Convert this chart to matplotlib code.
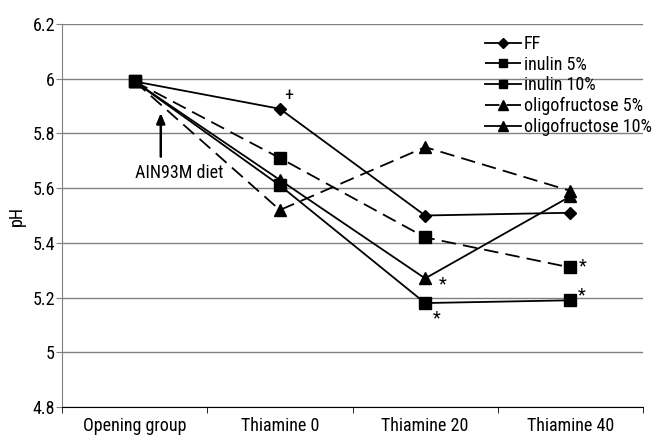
import matplotlib
matplotlib.use("Agg")
import matplotlib.pyplot as plt
from matplotlib import font_manager as fm

names = {f.name for f in fm.fontManager.ttflist}
chosen = None
for cand in ['Liberation Sans Narrow', 'Roboto Condensed', 'Archivo Narrow', 'PT Sans Narrow',
             'Fira Sans Condensed', 'IBM Plex Sans Condensed', 'Open Sans Condensed']:
    if cand in names:
        chosen = cand
        break
plt.rcParams['font.family'] = ([chosen] if chosen else []) + ['Liberation Sans', 'DejaVu Sans']
FS = 13 if chosen else 11

categories = ["Opening group", "Thiamine 0", "Thiamine 20", "Thiamine 40"]
ff = [5.99, 5.89, 5.50, 5.51]
inulin5 = [5.99, 5.71, 5.42, 5.31]
inulin10 = [5.99, 5.61, 5.18, 5.19]
oligo5 = [5.99, 5.52, 5.75, 5.59]
oligo10 = [5.99, 5.63, 5.27, 5.57]
yticks = [4.8, 5.0, 5.2, 5.4, 5.6, 5.8, 6.0, 6.2]
yticklabels = ["4.8", "5", "5.2", "5.4", "5.6", "5.8", "6", "6.2"]

fig = plt.figure(figsize=(6.53, 4.37), dpi=100)
ax = fig.add_axes([62/653, 1-407/437, (643-62)/653, (407-24)/437])

x = list(range(len(categories)))
dash = (0, (8, 4))
lw = 1.3
ax.plot(x, ff, color='black', lw=lw, marker='D', ms=6, label='FF', zorder=3)
ax.plot(x, inulin5, color='black', lw=lw, ls=dash, marker='s', ms=8, label='inulin 5%', zorder=3)
ax.plot(x, inulin10, color='black', lw=lw, marker='s', ms=8, label='inulin 10%', zorder=3)
ax.plot(x, oligo5, color='black', lw=lw, ls=dash, marker='^', ms=9, label='oligofructose 5%', zorder=3)
ax.plot(x, oligo10, color='black', lw=lw, marker='^', ms=9, label='oligofructose 10%', zorder=3)

ax.set_ylim(4.8, 6.2)
ax.set_yticks(yticks)
ax.set_yticklabels(yticklabels)
ax.set_xlim(-0.5, 3.5)
ax.set_xticks(x)
ax.set_xticklabels(categories)
ax.set_xticks([-0.5, 0.5, 1.5, 2.5, 3.5], minor=True)
ax.tick_params(axis='x', which='major', length=0, pad=7, labelsize=FS)
ax.tick_params(axis='x', which='minor', length=4, color='black')
ax.tick_params(axis='y', length=4, color='#808080', labelsize=FS, pad=1)
ax.yaxis.grid(True, color='#808080', lw=1)
ax.set_axisbelow(True)
for s in ['top', 'right']:
    ax.spines[s].set_visible(False)
ax.spines['left'].set_color('#808080')
ax.spines['bottom'].set_color('black')
ax.set_ylabel('pH', fontsize=FS, labelpad=5)

# significance marks
ax.annotate('+', xy=(x[1], ff[1]), xytext=(9, 13), textcoords='offset pixels',
            ha='center', va='center', fontsize=FS)
ax.annotate('*', xy=(x[2], oligo10[2]), xytext=(18, -6), textcoords='offset pixels',
            ha='center', va='center', fontsize=FS)
ax.annotate('*', xy=(x[2], inulin10[2]), xytext=(12, -15), textcoords='offset pixels',
            ha='center', va='center', fontsize=FS)
ax.annotate('*', xy=(x[3], inulin5[3]), xytext=(12, 1), textcoords='offset pixels',
            ha='center', va='center', fontsize=FS)
ax.annotate('*', xy=(x[3], inulin10[3]), xytext=(11, 5), textcoords='offset pixels',
            ha='center', va='center', fontsize=FS)

# AIN93M diet arrow
ax.annotate('', xy=(0.18, 5.875), xytext=(0.18, 5.715),
            arrowprops=dict(arrowstyle='-|>,head_length=0.6,head_width=0.25',
                            color='black', lw=1.8, shrinkA=0, shrinkB=0))
ax.text(0.31, 5.655, 'AIN93M diet', ha='center', va='center', fontsize=FS)

leg = ax.legend(loc='upper left', bbox_to_anchor=(485/653, 1-35/437),
                bbox_transform=fig.transFigure, frameon=False, fontsize=FS,
                borderpad=0, borderaxespad=0, handlelength=2.0, handletextpad=0.15,
                labelspacing=0.15, markerscale=0.8)

fig.savefig('out.png', dpi=100)
